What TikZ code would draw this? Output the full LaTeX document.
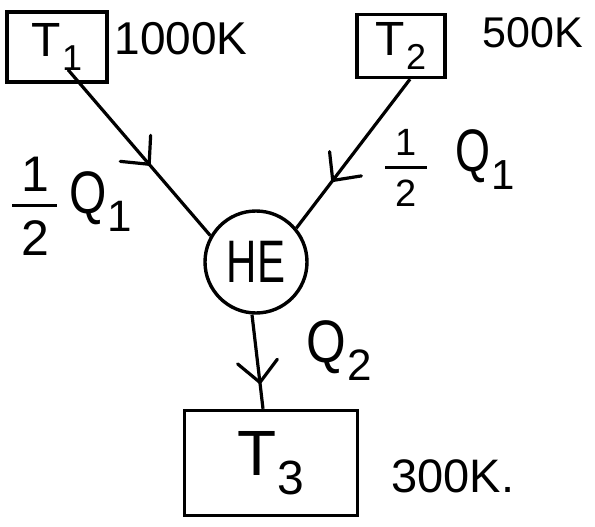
\documentclass[tikz,border=0pt]{standalone}
\usepackage{fontspec}
\setmainfont{Liberation Sans}
\usepackage{graphicx}
\usetikzlibrary{decorations.markings}
\newcommand{\lowsub}[2]{\kern1pt\raisebox{-0.3em}{\fontsize{#1}{#1}\selectfont #2}}
\newcommand{\halffrac}[2]{\vbox{\hbox to #1{\hss 1\hss}\kern#2\hrule height 3pt\kern#2\hbox to #1{\hss 2\hss}}}
\begin{document}
\begin{tikzpicture}[x=1pt,y=-1pt,
  box/.style={draw,line width=3.4pt,inner sep=0pt},
  lbl/.style={inner sep=0pt},
  flow/.style={line width=3.2pt,postaction={decorate},
    decoration={markings,mark=at position #1 with {\draw[line width=3.2pt,line cap=round,line join=round] (-21pt,-20pt) -- (0pt,0pt) -- (-21pt,20pt);}}}]
\useasboundingbox (0,0) rectangle (595,527);
% reservoirs
\node[box,minimum width=100pt,minimum height=70pt] (T1) at (57,47)
  {\fontsize{48}{48}\selectfont T\lowsub{36}{1}};
\node[box,minimum width=88pt,minimum height=63pt] (T2) at (401,46)
  {\fontsize{48}{48}\selectfont T\lowsub{36}{2}};
\node[box,minimum width=173pt,minimum height=105pt] (T3) at (271,463)
  {\fontsize{64}{64}\selectfont T\lowsub{48}{3}};
% heat engine
\node[draw,circle,line width=3.4pt,minimum size=102pt,inner sep=0pt] (HE) at (256,262)
  {\fontsize{60}{60}\selectfont\scalebox{0.7}[1]{HE}};
% temperatures
\node[lbl] (t1) at (181,39) {\fontsize{46}{46}\selectfont 1000K};
\node[lbl] (t2) at (533,33) {\fontsize{43}{43}\selectfont 500K};
\node[lbl] (t3) at (453,476) {\fontsize{47}{47}\selectfont 300K.};
% heat labels
\node[lbl] (f1) at (35,206) {\fontsize{50}{50}\selectfont\halffrac{45pt}{13pt}};
\node[lbl] (q1) at (101,202) {\fontsize{60}{60}\selectfont\scalebox{0.8}[1]{Q}\lowsub{44}{1}};
\node[lbl] (f2) at (406,168) {\fontsize{38}{38}\selectfont\halffrac{42pt}{11pt}};
\node[lbl] (q1b) at (485,160) {\fontsize{60}{60}\selectfont\scalebox{0.75}[1]{Q}\lowsub{42}{1}};
\node[lbl] (q2) at (339,351) {\fontsize{60}{60}\selectfont\scalebox{0.85}[1]{Q}\lowsub{44}{2}};
% connectors
\draw[flow=0.57] ([shift={(11,-14)}]T1.south) -- (HE.150);
\draw[flow=0.68] ([shift={(9,0)}]T2.south) -- (HE.40);
\draw[flow=0.72] ([shift={(-4,0)}]HE.south) -- ([shift={(-8,0)}]T3.north);
\end{tikzpicture}
\end{document}
